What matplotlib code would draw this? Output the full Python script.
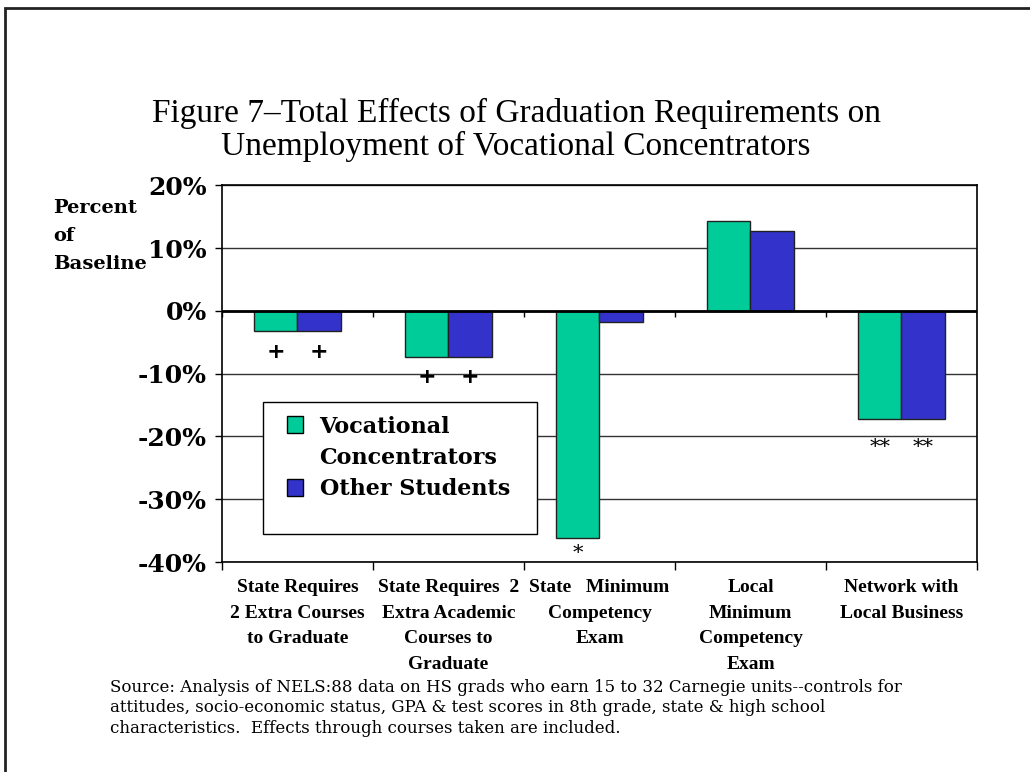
import numpy as np
import matplotlib.pyplot as plt
from matplotlib.patches import Rectangle, Patch

categories = ['State Requires\n2 Extra Courses\nto Graduate',
              'State Requires  2\nExtra Academic\nCourses to\nGraduate',
              'State   Minimum\nCompetency\nExam',
              'Local\nMinimum\nCompetency\nExam',
              'Network with\nLocal Business']
vocational = [-3.2, -7.3, -36.2, 14.3, -17.2]
others = [-3.2, -7.3, -1.7, 12.7, -17.2]
yticks = [-40, -30, -20, -10, 0, 10, 20]

# significance marks under the bars: (category, series 0/1, y, text)
marks = [(0, 0, -6.5, '+'), (0, 1, -6.5, '+'),
         (1, 0, -10.5, '+'), (1, 1, -10.5, '+'),
         (2, 0, -38.6, '*'),
         (4, 0, -21.7, '**'), (4, 1, -21.7, '**')]

green = '#00CC99'
blue = '#3333CC'
serif = 'Liberation Serif'
book = 'DejaVu Serif'

fig = plt.figure(figsize=(10.3, 7.72), dpi=100)
ax = fig.add_axes([0.2155, 0.272, 0.733, 0.488])

x = np.arange(len(categories))
w = 0.287
ax.bar(x - w / 2, vocational, w, color=green, edgecolor='#222222', linewidth=1, zorder=3)
ax.bar(x + w / 2, others, w, color=blue, edgecolor='#222222', linewidth=1, zorder=3)

ax.set_xlim(-0.5, len(categories) - 0.5)
ax.set_ylim(-40, 20)
ax.set_yticks(yticks)
ax.set_yticklabels([f'{v}%' for v in yticks], fontfamily=book, fontweight='bold', fontsize=18)
for v in yticks:
    ax.axhline(v, color='#333333', linewidth=1, zorder=1)
ax.axhline(0, color='black', linewidth=2, zorder=4)

bounds = np.arange(len(categories) + 1) - 0.5
ax.set_xticks(bounds)
ax.set_xticklabels([])
ax.set_xticks(x, minor=True)
ax.set_xticklabels(categories, minor=True, fontfamily=serif, fontweight='bold',
                   fontsize=14, linespacing=1.68)
ax.tick_params(axis='x', which='minor', length=0, pad=12)
ax.tick_params(axis='x', which='major', length=6, width=1)
ax.tick_params(axis='y', length=5, width=1, pad=6)
# tick marks on the zero line
ax.vlines(bounds, -0.9, 0, color='black', linewidth=1, zorder=4)
for s in ax.spines.values():
    s.set_linewidth(1.2)

for c, sidx, y, t in marks:
    xx = x[c] - w / 2 if sidx == 0 else x[c] + w / 2
    if t == '+':
        ax.text(xx, y, t, ha='center', va='center', fontsize=16, fontweight='bold',
                fontfamily='DejaVu Sans', zorder=5)
    else:
        ax.text(xx, y, t, ha='center', va='center', fontsize=15, fontfamily=book, zorder=5)

# legend box
ax.add_patch(Rectangle((0.054, 0.074), 0.363, 0.35, transform=ax.transAxes,
                       facecolor='white', edgecolor='black', linewidth=1, zorder=6))
handles = [Patch(facecolor=green, edgecolor='black'),
           Patch(facecolor='none', edgecolor='none'),
           Patch(facecolor=blue, edgecolor='black')]
leg = ax.legend(handles, ['Vocational', 'Concentrators', 'Other Students'],
                loc='upper left', bbox_to_anchor=(0.063, 0.436), frameon=False,
                prop={'family': book, 'weight': 'bold', 'size': 16},
                handlelength=0.7, handleheight=0.8, handletextpad=0.75,
                labelspacing=0.42, borderpad=0.3)
leg.set_zorder(7)

fig.text(53 / 1030, 1 - 236 / 772, 'Percent\nof\nBaseline', ha='left', va='center',
         fontfamily=book, fontweight='bold', fontsize=14, linespacing=1.72)

fig.text(516 / 1030, 1 - 130 / 772,
         'Figure 7\u2013Total Effects of Graduation Requirements on\n'
         'Unemployment of Vocational Concentrators',
         ha='center', va='center', fontfamily=serif, fontsize=24, linespacing=1.1)

fig.text(110 / 1030, 1 - 708 / 772,
         'Source: Analysis of NELS:88 data on HS grads who earn 15 to 32 Carnegie units--controls for\n'
         'attitudes, socio-economic status, GPA & test scores in 8th grade, state & high school\n'
         'characteristics.  Effects through courses taken are included.',
         ha='left', va='center', fontfamily=book, fontsize=12, linespacing=1.3)

# outer frame
fig.patches.append(Rectangle((5 / 1030, -0.1), 1.2, 1 - 8 / 772 + 0.1, transform=fig.transFigure,
                             facecolor='none', edgecolor='#222222', linewidth=2))

fig.savefig('out.png', dpi=100)
